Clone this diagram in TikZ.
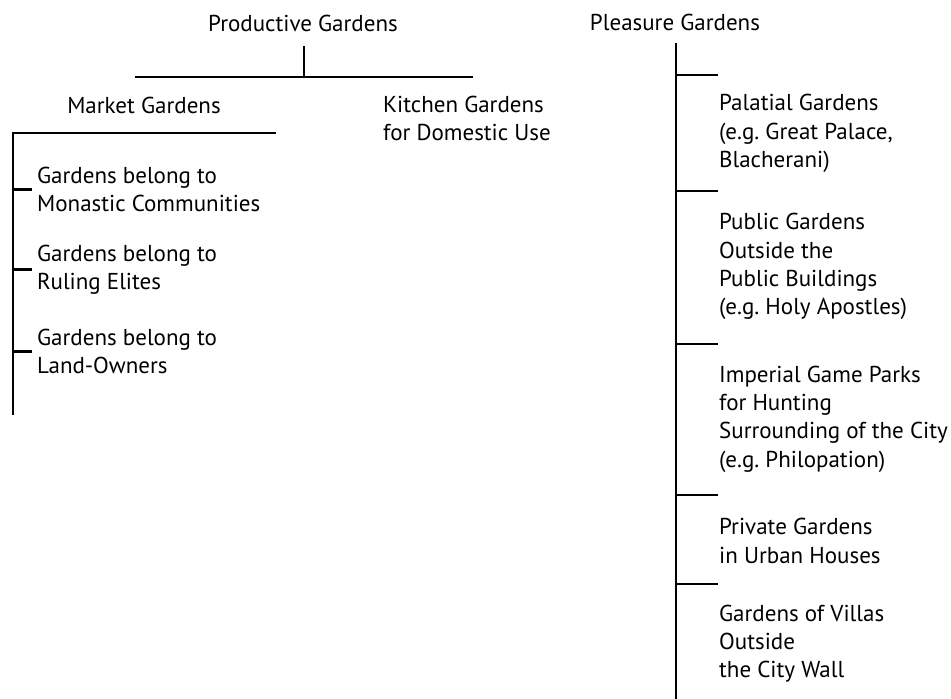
\documentclass[tikz,border=0pt]{standalone}
\usepackage{fontspec}
\setmainfont{PT Sans}
\frenchspacing
\begin{document}
\begin{tikzpicture}[x=1pt,y=-1pt,line width=2.3pt,
    heading/.style={font=\fontsize{23}{28.3}\selectfont, inner sep=0pt},
    item/.style={heading, align=left, anchor=west, inner xsep=4pt}]
  \useasboundingbox (0,0) rectangle (951,699);

        % Headings
  \node[heading] (prod) at (303,23) {Productive Gardens};
  \node[heading] (pleas) at (675,22) {Pleasure Gardens};
  \node[heading] (market) at (144,105) {Market Gardens};
  \node[item, inner xsep=0pt] (kitchen) at (382,118.5) {Kitchen Gardens\\for Domestic Use};

        % Market gardens branches
  \node[item] (monastic) at (32,189.5) {Gardens belong to\\Monastic Communities};
  \node[item] (elites) at (32,269.5) {Gardens belong to\\Ruling Elites};
  \node[item] (owners) at (32,351.5) {Gardens belong to\\Land-Owners};

        % Pleasure gardens branches
  \node[item, inner xsep=0pt] (palatial) at (718,133.5) {Palatial Gardens\\(e.g. Great Palace,\\Blacherani)};
  \node[item, inner xsep=0pt] (public) at (718,266.5) {Public Gardens\\Outside the\\Public Buildings\\(e.g. Holy Apostles)};
  \node[item, inner xsep=0pt] (parks) at (718,419) {Imperial Game Parks\\for Hunting\\Surrounding of the City\\(e.g. Philopation)};
  \node[item, inner xsep=0pt] (private) at (718,541) {Private Gardens\\in Urban Houses};
  \node[item, inner xsep=0pt] (villas) at (718,643.5) {Gardens of Villas\\Outside\\the City Wall};

        % Top bar under productive gardens
  \coordinate (prod-stem) at (304,46);
  \coordinate (bar-l) at (135,77);
  \coordinate (bar-r) at (473,77);
  \draw (prod-stem) -- (prod-stem |- bar-l);
  \draw (bar-l) -- (bar-r);

        % Market gardens tree
  \coordinate (mk-top) at (13,133);
  \coordinate (mk-end) at (276,133);
  \coordinate (mk-bot) at (13,415);
  \draw (mk-end) -- (mk-top) -- (mk-bot);
  \foreach \n in {monastic,elites,owners}
    \draw (\n.west -| mk-top) -- (\n.west);

        % Pleasure gardens tree
  \coordinate (pl-top) at (676,43);
  \coordinate (pl-bot) at (676,699);
  \draw (pl-top) -- (pl-bot);
  \foreach \t in {75,191,344,495,584}
    \draw (pl-top |- 0,\t) -- (718,\t);
\end{tikzpicture}
\end{document}
